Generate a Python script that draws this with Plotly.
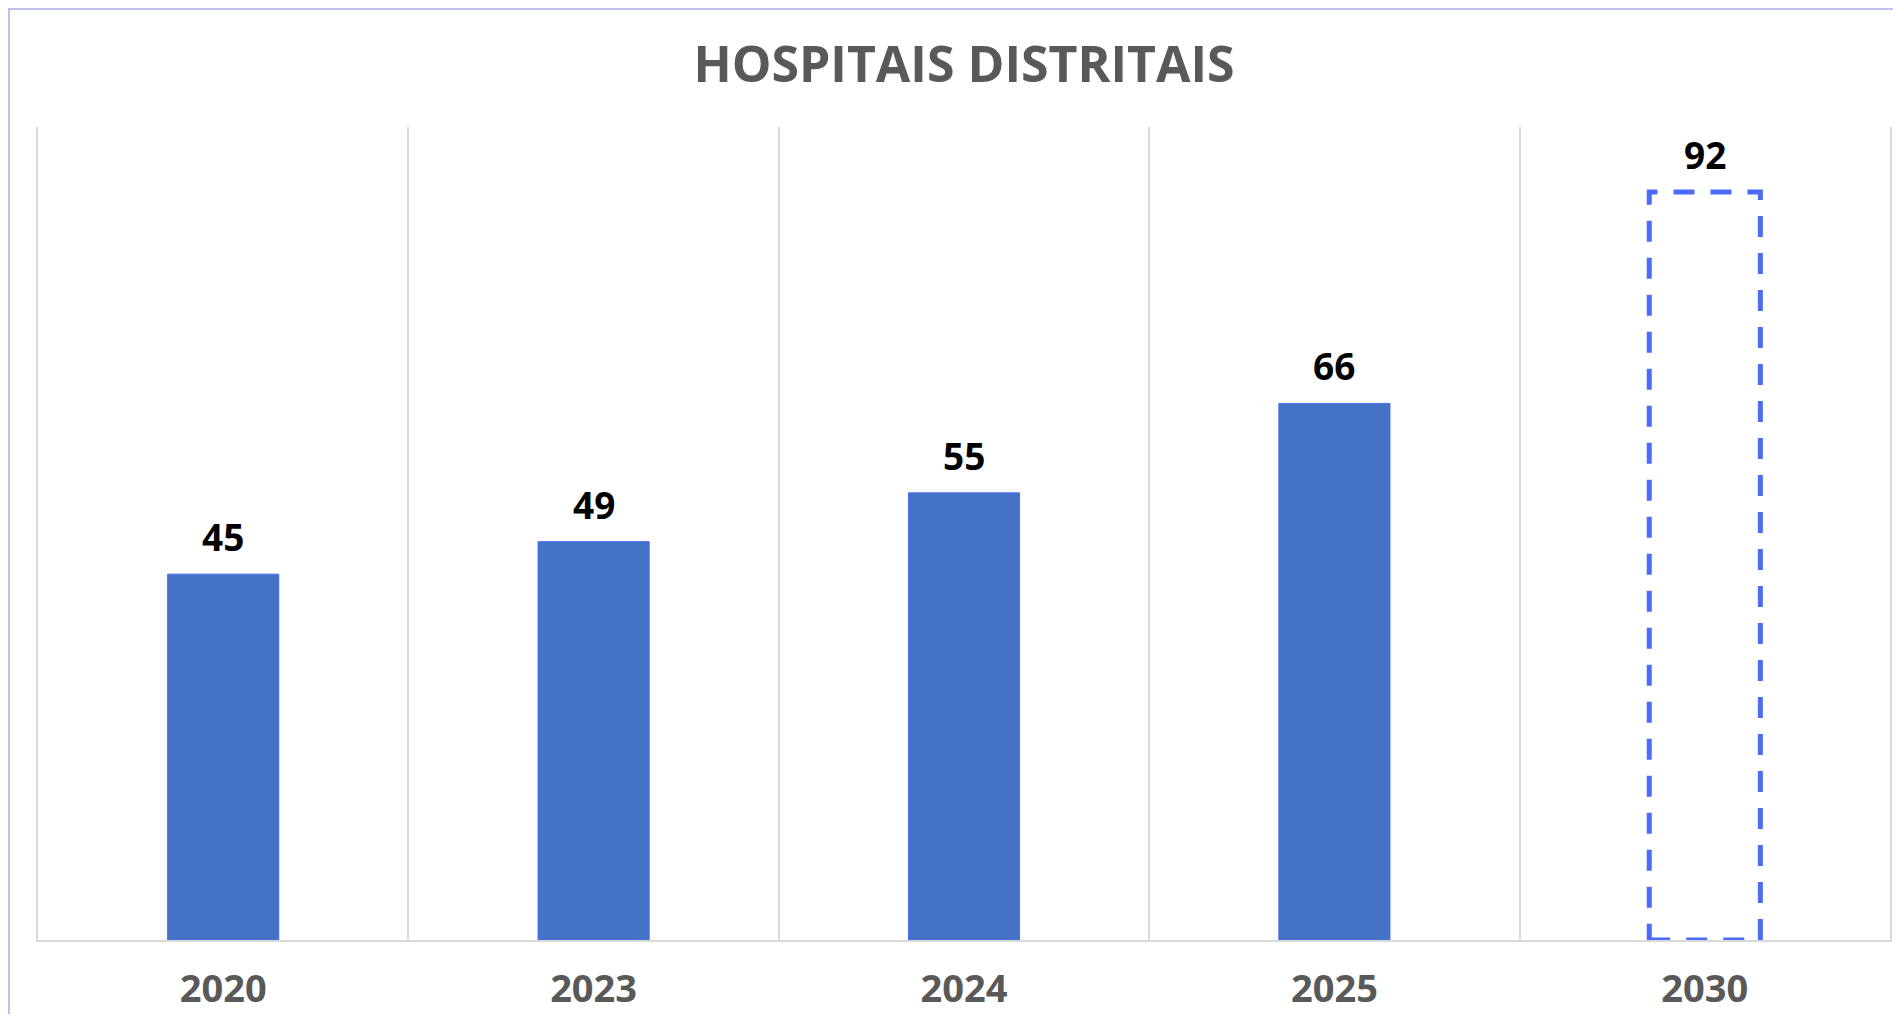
import plotly.graph_objects as go

years = ["2020", "2023", "2024", "2025", "2030"]
hospitais = [45, 49, 55, 66, 92]
projetado = [False, False, False, False, True]

BAR_BLUE = "#4472c4"
EDGE_BLUE = "#4a6cf7"
GRID = "#d9d9d9"
GREY_TEXT = "#595959"
BAR_W = 0.3

fig = go.Figure()

fig.add_trace(go.Bar(
    x=years,
    y=hospitais,
    width=BAR_W,
    marker=dict(
        color=["rgba(0,0,0,0)" if p else BAR_BLUE for p in projetado],
        line=dict(color=["rgba(0,0,0,0)" if p else EDGE_BLUE for p in projetado], width=1),
    ),
    hoverinfo="x+y",
    showlegend=False,
))

# projected value drawn as a dashed outline (on a hidden numeric axis aligned with the categories)
for i, (v, p) in enumerate(zip(hospitais, projetado)):
    if p:
        fig.add_shape(
            type="rect", xref="x2", yref="y",
            x0=i - BAR_W / 2, x1=i + BAR_W / 2, y0=0, y1=v,
            line=dict(color=EDGE_BLUE, width=5, dash="21px,16px"),
            fillcolor="rgba(0,0,0,0)",
        )

# value labels
for i, v in enumerate(hospitais):
    fig.add_annotation(
        x=i, y=v, xref="x2", yref="y", text=f"<b>{v}</b>", showarrow=False,
        yanchor="bottom", yshift=10,
        font=dict(family="Open Sans", size=37, color="black"),
    )

# outer frame
fig.add_shape(
    type="rect", xref="paper", yref="paper",
    xsizemode="pixel", ysizemode="pixel", xanchor=0, yanchor=1,
    x0=-29, x1=1900, y0=-2000, y1=118,
    line=dict(color="#c0c0e8", width=2),
)

fig.update_layout(
    xaxis=dict(
        type="category",
        range=[-0.5, len(years) - 0.5],
        tickson="boundaries",
        showgrid=True,
        gridcolor=GRID,
        gridwidth=1.5,
        showline=True,
        linecolor=GRID,
        linewidth=2,
        ticks="",
        tickangle=0,
        ticklabelstandoff=14,
        tickfont=dict(family="Open Sans", size=38, color=GREY_TEXT, weight="bold"),
    ),
    xaxis2=dict(
        type="linear",
        overlaying="x",
        range=[-0.5, len(years) - 0.5],
        visible=False,
    ),
    yaxis=dict(
        range=[0, 100],
        showgrid=False,
        zeroline=False,
        showticklabels=False,
        showline=True,
        mirror=True,
        linecolor=GRID,
        linewidth=1.5,
    ),
    width=1885,
    height=1006,
    margin=dict(l=30, r=1, t=119, b=65),
    plot_bgcolor="white",
    paper_bgcolor="white",
    title=dict(
        text="<b>HOSPITAIS DISTRITAIS</b>",
        x=0.5, xref="paper", xanchor="center",
        y=1 - 56 / 1006, yref="container", yanchor="middle",
        font=dict(family="Open Sans", size=50, color=GREY_TEXT),
    ),
)

fig.write_html("out.html")
